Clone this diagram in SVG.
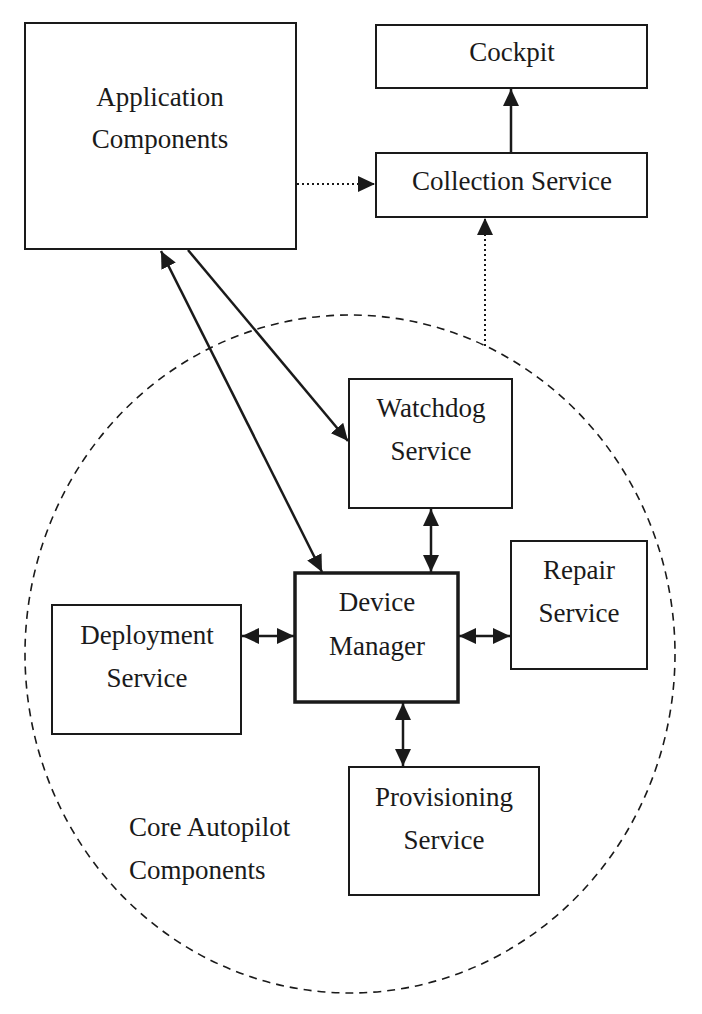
<svg xmlns="http://www.w3.org/2000/svg" width="702" height="1014" viewBox="0 0 702 1014">
<style>
.box{fill:#fff;stroke:#1a1a1a;stroke-width:2}
.thick{stroke-width:3.5}
text{font-family:"Liberation Serif","Times New Roman",serif;font-size:27px;fill:#1a1a1a;text-anchor:middle}
.l{text-anchor:start}
.c{stroke:#1a1a1a;stroke-width:2.5;fill:none}
.dot{stroke-dasharray:2 3;stroke-width:2}
</style>
<defs>
<marker id="ah" markerUnits="userSpaceOnUse" markerWidth="17" markerHeight="16" refX="17" refY="8" orient="auto-start-reverse">
<path d="M0,0 L17,8 L0,16 Z" fill="#1a1a1a"/>
</marker>
</defs>
<ellipse cx="350" cy="654" rx="325" ry="339" fill="none" stroke="#1a1a1a" stroke-width="1.6" stroke-dasharray="8 6"/>
<g id="app"><rect class="box" x="25" y="23" width="271" height="226"/><text x="160" y="106">Application</text><text x="160" y="148">Components</text></g>
<g id="cockpit"><rect class="box" x="376" y="25" width="271" height="63"/><text x="512" y="61">Cockpit</text></g>
<g id="collection"><rect class="box" x="376" y="153" width="271" height="64"/><text x="512" y="190">Collection Service</text></g>
<g id="watchdog"><rect class="box" x="349" y="379" width="163" height="129"/><text x="431" y="417">Watchdog</text><text x="431" y="460">Service</text></g>
<g id="device"><rect class="box thick" x="295" y="573" width="163" height="129"/><text x="377" y="611">Device</text><text x="377" y="655">Manager</text></g>
<g id="repair"><rect class="box" x="511" y="541" width="136" height="128"/><text x="579" y="579">Repair</text><text x="579" y="622">Service</text></g>
<g id="deployment"><rect class="box" x="52" y="605" width="189" height="129"/><text x="147" y="644">Deployment</text><text x="147" y="687">Service</text></g>
<g id="provisioning"><rect class="box" x="349" y="767" width="190" height="128"/><text x="444" y="806">Provisioning</text><text x="444" y="849">Service</text></g>
<g id="core"><text class="l" x="129" y="836">Core Autopilot</text><text class="l" x="129" y="879">Components</text></g>
<g id="connectors">
<line class="c" x1="511" y1="153" x2="511" y2="89" marker-end="url(#ah)"/>
<line class="c dot" x1="297" y1="184" x2="375" y2="184" marker-end="url(#ah)"/>
<line class="c dot" x1="485" y1="346" x2="485" y2="218" marker-end="url(#ah)"/>
<line class="c" x1="188" y1="250" x2="348" y2="441" marker-end="url(#ah)"/>
<line class="c" x1="161" y1="251" x2="322" y2="572" marker-start="url(#ah)" marker-end="url(#ah)"/>
<line class="c" x1="431" y1="509" x2="431" y2="572" marker-start="url(#ah)" marker-end="url(#ah)"/>
<line class="c" x1="242" y1="636" x2="294" y2="636" marker-start="url(#ah)" marker-end="url(#ah)"/>
<line class="c" x1="459" y1="636" x2="510" y2="636" marker-start="url(#ah)" marker-end="url(#ah)"/>
<line class="c" x1="403" y1="703" x2="403" y2="766" marker-start="url(#ah)" marker-end="url(#ah)"/>
</g>
</svg>
